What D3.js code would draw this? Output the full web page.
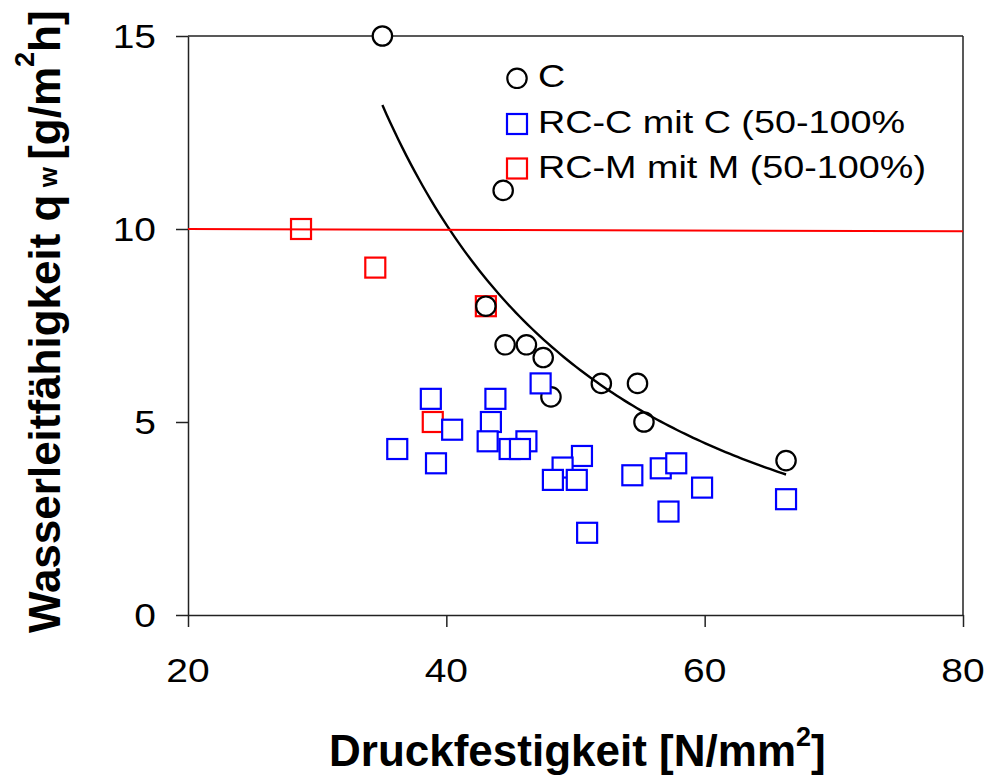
<!DOCTYPE html>
<html>
<head>
<meta charset="utf-8">
<script src="https://cdn.jsdelivr.net/npm/d3@7"></script>
<style>
  html, body { margin: 0; padding: 0; background: #fff; }
  svg { display: block; }
  text { font-family: Arial, "Liberation Sans", Helvetica, sans-serif; fill: #000; }
</style>
</head>
<body>
<svg id="chart" width="987" height="775"></svg>
<script>
// ---- data ----
const xTicks = [20, 40, 60, 80];
const yTicks = [0, 5, 10, 15];

// C (circles)
const cX = [35.05, 44.4, 43.06, 44.55, 46.2, 47.5, 48.1, 52.0, 54.8, 55.3, 66.3];
const cY = [15, 11, 8, 7, 7, 6.67, 5.65, 6.0, 6.0, 5.0, 4.0];

// RC-C mit C (blue squares)
const bX = [38.8, 43.8, 47.3, 40.45, 43.45, 43.2, 46.2, 44.9, 45.7, 36.2, 39.2, 50.5, 49.0, 48.25, 50.1, 54.4, 50.9, 56.6, 57.8, 59.8, 57.2, 66.3];
const bY = [5.6, 5.6, 6.0, 4.8, 5.0, 4.5, 4.5, 4.3, 4.3, 4.3, 3.93, 4.12, 3.82, 3.5, 3.5, 3.62, 2.13, 3.8, 3.93, 3.3, 2.68, 3.0];

// RC-M mit M (red squares)
const rX = [28.75, 34.5, 43.06, 38.95];
const rY = [10, 9, 8, 5.0];

// red reference line
const refX = [20, 80];
const refY = [10, 9.94];

const legendLabels = ["C", "RC-C mit C (50-100%", "RC-M mit M (50-100%)"];

// ---- setup ----
const svg = d3.select("#chart");
svg.append("rect").attr("width", 987).attr("height", 775).attr("fill", "#fff");

const L = 188, R = 963, T = 36, B = 615;
const x = d3.scaleLinear().domain([20, 80]).range([L, R]);
const y = d3.scaleLinear().domain([0, 15]).range([B, T]);

const axisColor = "#222";

// plot frame (top & right)
svg.append("line").attr("x1", L).attr("x2", R).attr("y1", T).attr("y2", T)
  .attr("stroke", axisColor).attr("stroke-width", 1.5);
svg.append("line").attr("x1", R).attr("x2", R).attr("y1", T).attr("y2", B)
  .attr("stroke", axisColor).attr("stroke-width", 1.5);

// axes
const gx = svg.append("g").attr("transform", `translate(0,${B})`)
  .call(d3.axisBottom(x).tickValues(xTicks).tickSize(12).tickSizeOuter(0).tickFormat(""));
const gy = svg.append("g").attr("transform", `translate(${L},0)`)
  .call(d3.axisLeft(y).tickValues(yTicks).tickSize(12).tickSizeOuter(0).tickFormat(""));
[gx, gy].forEach(g => {
  g.selectAll("path, line").attr("stroke", axisColor).attr("stroke-width", 1.5);
});

const sx = 1.18;
// y tick labels
yTicks.forEach(t => {
  svg.append("g").attr("transform", `translate(156,${y(t) + 11.7}) scale(${sx},1)`)
    .append("text").attr("text-anchor", "end").attr("font-size", 33).text(t);
});
// x tick labels
xTicks.forEach(t => {
  svg.append("g").attr("transform", `translate(${x(t)},682) scale(${sx},1)`)
    .append("text").attr("text-anchor", "middle").attr("font-size", 33).text(t);
});

// ---- markers ----
const sq = 20, rC = 9.7, mw = 2.2;
const redPts = rX.map((v, i) => [v, rY[i]]);
const cPts = cX.map((v, i) => [v, cY[i]]);
const bPts = bX.map((v, i) => [v, bY[i]]);

svg.append("g").selectAll("rect").data(redPts).join("rect")
  .attr("x", d => x(d[0]) - sq / 2).attr("y", d => y(d[1]) - sq / 2)
  .attr("width", sq).attr("height", sq)
  .attr("fill", "#fff").attr("stroke", "#ff0000").attr("stroke-width", mw);

svg.append("g").selectAll("circle").data(cPts).join("circle")
  .attr("cx", d => x(d[0])).attr("cy", d => y(d[1])).attr("r", rC)
  .attr("fill", "#fff").attr("stroke", "#000").attr("stroke-width", mw);

svg.append("g").selectAll("rect").data(bPts).join("rect")
  .attr("x", d => x(d[0]) - sq / 2).attr("y", d => y(d[1]) - sq / 2)
  .attr("width", sq).attr("height", sq)
  .attr("fill", "#fff").attr("stroke", "#0000ff").attr("stroke-width", mw);

// ---- power trend line fitted to C data (least squares in log-log) ----
const lx = cX.map(Math.log), ly = cY.map(Math.log);
const mx = d3.mean(lx), my = d3.mean(ly);
const b = d3.sum(lx.map((v, i) => (v - mx) * (ly[i] - my))) / d3.sum(lx.map(v => (v - mx) ** 2));
const a = Math.exp(my - b * mx);
const x0 = d3.min(cX), x1 = d3.max(cX);
const trend = d3.range(0, 101).map(i => {
  const xv = x0 + (x1 - x0) * i / 100;
  return [xv, a * Math.pow(xv, b)];
});
svg.append("path").datum(trend)
  .attr("d", d3.line().x(d => x(d[0])).y(d => y(d[1])))
  .attr("fill", "none").attr("stroke", "#000").attr("stroke-width", 2.4);

// red reference line
svg.append("path").datum(refX.map((v, i) => [v, refY[i]]))
  .attr("d", d3.line().x(d => x(d[0])).y(d => y(d[1])))
  .attr("fill", "none").attr("stroke", "#ff0000").attr("stroke-width", 2);

// ---- legend ----
const legBase = [87, 132.5, 178];
const legMarkY = [78.3, 124, 168.5];
const lg = svg.append("g");
lg.append("circle").attr("cx", 517).attr("cy", legMarkY[0]).attr("r", rC)
  .attr("fill", "#fff").attr("stroke", "#000").attr("stroke-width", mw);
lg.append("rect").attr("x", 517 - sq / 2).attr("y", legMarkY[1] - sq / 2).attr("width", sq).attr("height", sq)
  .attr("fill", "#fff").attr("stroke", "#0000ff").attr("stroke-width", mw);
lg.append("rect").attr("x", 517 - sq / 2).attr("y", legMarkY[2] - sq / 2).attr("width", sq).attr("height", sq)
  .attr("fill", "#fff").attr("stroke", "#ff0000").attr("stroke-width", mw);
legendLabels.forEach((s, i) => {
  lg.append("g").attr("transform", `translate(538,${legBase[i]}) scale(${sx},1)`)
    .append("text").attr("font-size", 32).text(s);
});

// ---- axis titles ----
const xt = svg.append("text").attr("x", 329).attr("y", 766)
  .attr("font-size", 44).attr("font-weight", "bold");
xt.append("tspan").text("Druckfestigkeit [N/mm");
xt.append("tspan").attr("font-size", 27).attr("dy", -20).text("2");
xt.append("tspan").attr("dy", 20).text("]");

const yt = svg.append("text").attr("transform", "translate(60,633) rotate(-90)")
  .attr("font-size", 44).attr("font-weight", "bold");
yt.append("tspan").text("Wasserleitfähigkeit q");
yt.append("tspan").attr("font-size", 26).attr("dy", -3).text(" w ");
yt.append("tspan").attr("dy", 3).text("[g/m");
yt.append("tspan").attr("font-size", 27).attr("dy", -26).text("2");
yt.append("tspan").attr("dy", 26).text("h]");
</script>
</body>
</html>
